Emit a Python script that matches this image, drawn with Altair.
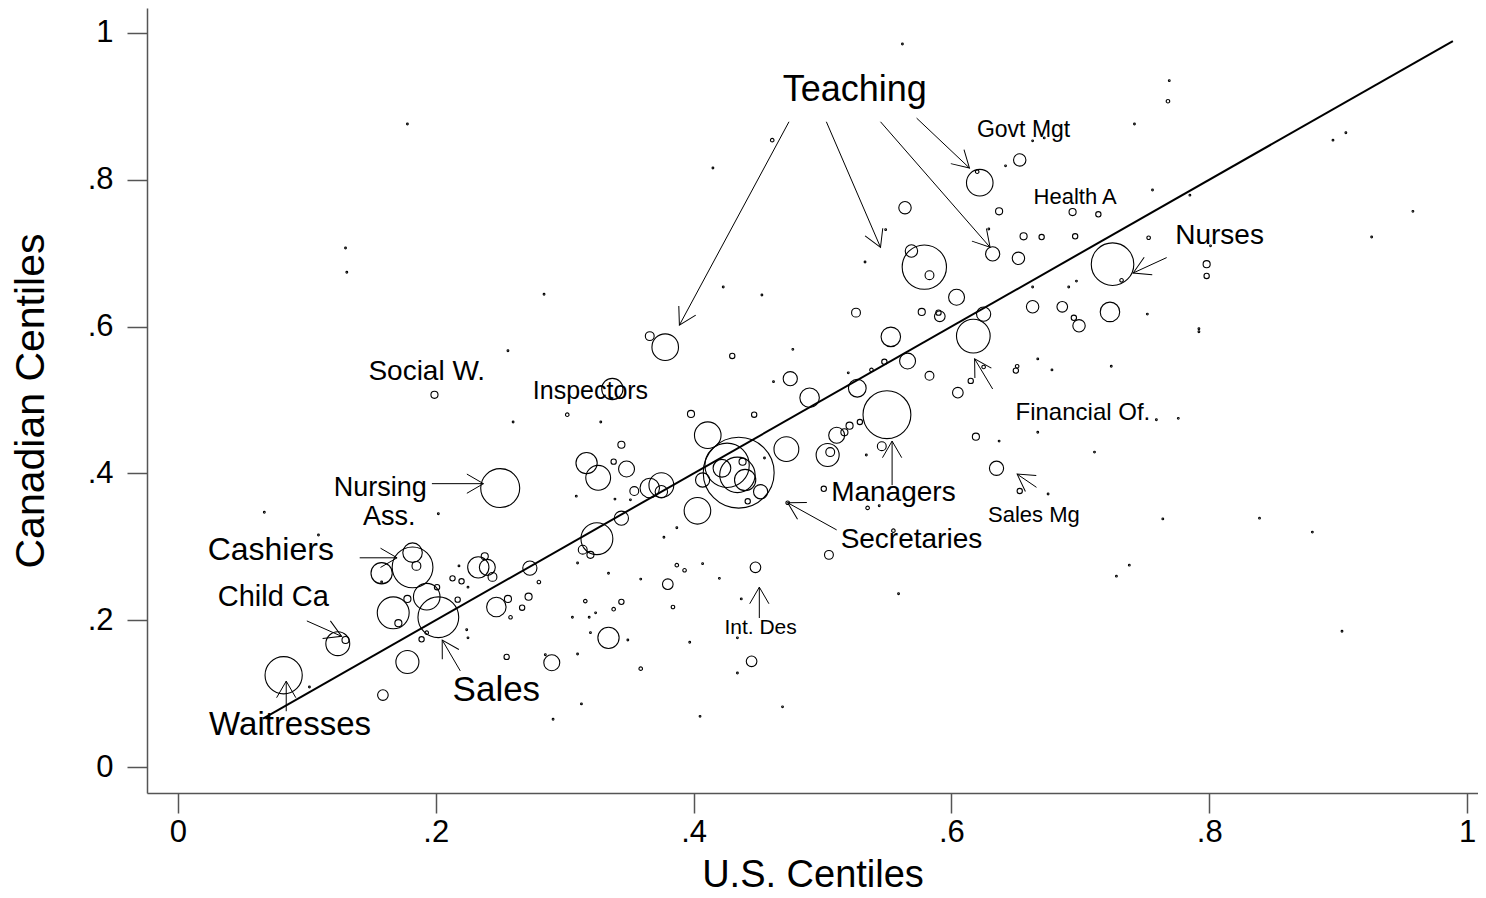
import math
import altair as alt
import pandas as pd

# ---------------- data: occupations (U.S. centile, Canadian centile, relative employment)
US = [0.082, 0.124, 0.130, 0.158, 0.182, 0.182, 0.185, 0.167, 0.193, 0.202, 0.178, 0.159,
      0.233, 0.240, 0.238, 0.247, 0.273, 0.290, 0.250, 0.213, 0.220, 0.178, 0.171, 0.201,
      0.255, 0.272, 0.267, 0.256, 0.258, 0.280, 0.189, 0.193, 0.217, 0.244,
      0.490, 0.527, 0.550, 0.411, 0.435, 0.426, 0.422, 0.434, 0.440, 0.452, 0.407, 0.442,
      0.438, 0.472, 0.403, 0.317, 0.326, 0.348, 0.344, 0.338, 0.354, 0.366, 0.375, 0.375,
      0.344, 0.325, 0.314, 0.320, 0.398, 0.447, 0.302, 0.511, 0.517, 0.521, 0.529, 0.504,
      0.506, 0.473, 0.505, 0.448, 0.380, 0.387, 0.393, 0.344, 0.338, 0.316, 0.384, 0.334,
      0.445, 0.359, 0.501, 0.535, 0.555,
      0.622, 0.620, 0.564, 0.637, 0.694, 0.714, 0.653, 0.579, 0.569, 0.583, 0.632, 0.652,
      0.656, 0.670, 0.696, 0.725, 0.732, 0.753, 0.798, 0.798, 0.604, 0.526, 0.577, 0.590,
      0.591, 0.625, 0.663, 0.686, 0.695, 0.699, 0.723, 0.617, 0.553, 0.566, 0.548, 0.538,
      0.475, 0.583, 0.605, 0.615, 0.625, 0.650, 0.651, 0.619, 0.635, 0.653, 0.546,
      0.199, 0.337, 0.366, 0.378, 0.430, 0.461, 0.768]
CA = [0.125, 0.168, 0.173, 0.264, 0.272, 0.292, 0.274, 0.210, 0.232, 0.204, 0.143, 0.098,
      0.272, 0.272, 0.287, 0.218, 0.271, 0.142, 0.380, 0.257, 0.253, 0.229, 0.196, 0.245,
      0.150, 0.232, 0.217, 0.229, 0.204, 0.252, 0.174, 0.183, 0.228, 0.259,
      0.503, 0.516, 0.480, 0.452, 0.401, 0.411, 0.407, 0.398, 0.391, 0.375, 0.391, 0.362,
      0.416, 0.433, 0.349, 0.414, 0.394, 0.406, 0.439, 0.416, 0.376, 0.380, 0.384, 0.375,
      0.339, 0.311, 0.296, 0.289, 0.481, 0.480, 0.480, 0.452, 0.456, 0.465, 0.470, 0.425,
      0.429, 0.360, 0.289, 0.272, 0.249, 0.275, 0.268, 0.225, 0.215, 0.226, 0.218, 0.176,
      0.144, 0.134, 0.379, 0.353, 0.322,
      0.796, 0.811, 0.762, 0.757, 0.756, 0.753, 0.827, 0.681, 0.703, 0.670, 0.699, 0.693,
      0.723, 0.722, 0.723, 0.685, 0.663, 0.721, 0.685, 0.669, 0.640, 0.619, 0.620, 0.619,
      0.614, 0.617, 0.627, 0.627, 0.612, 0.601, 0.620, 0.587, 0.586, 0.553, 0.552, 0.541,
      0.529, 0.533, 0.510, 0.526, 0.545, 0.540, 0.546, 0.450, 0.407, 0.376, 0.437,
      0.507, 0.515, 0.587, 0.572, 0.560, 0.854, 0.907]
EMP = [441, 182, 16, 144, 529, 121, 25, 324, 225, 529, 169, 36,
       144, 81, 16, 121, 64, 81, 484, 9, 9, 16, 16, 9,
       9, 16, 9, 16, 4, 4, 9, 4, 9, 25,
       121, 100, 729, 225, 1600, 625, 100, 400, 144, 64, 64, 9,
       16, 196, 225, 144, 196, 81, 16, 9, 25, 121, 196, 49,
       64, 324, 25, 16, 16, 9, 4, 81, 16, 16, 9, 169,
       25, 4, 25, 36, 36, 4, 4, 9, 4, 4, 4, 144,
       36, 4, 9, 4, 4,
       225, 4, 49, 16, 16, 9, 49, 625, 49, 25, 64, 49,
       16, 9, 9, 576, 4, 4, 16, 9, 81, 25, 16, 9,
       36, 64, 49, 36, 9, 49, 121, 361, 121, 81, 9, 4,
       64, 25, 36, 9, 4, 9, 4, 16, 64, 9, 25,
       16, 144, 25, 225, 9, 4, 4]

# very small occupations (drawn as dots)
DOT_US = [0.562, 0.178, 0.415, 0.131, 0.130, 0.284, 0.256, 0.423, 0.453, 0.477, 0.260, 0.328,
          0.309, 0.339, 0.351, 0.377, 0.387, 0.407, 0.420, 0.359, 0.334, 0.310, 0.306, 0.319,
          0.324, 0.320, 0.349, 0.397, 0.437, 0.434, 0.310, 0.313, 0.405, 0.469, 0.434, 0.559,
          0.534, 0.544, 0.533, 0.520, 0.462, 0.663, 0.691, 0.697, 0.752, 0.792, 0.667, 0.678,
          0.724, 0.776, 0.667, 0.637, 0.711, 0.675, 0.455, 0.067, 0.202, 0.109, 0.158, 0.224,
          0.225, 0.218, 0.225, 0.102, 0.291, 0.285, 0.769, 0.742, 0.663, 0.672, 0.642, 0.756,
          0.785, 0.549, 0.629, 0.896, 0.906, 0.958, 0.926, 0.792, 0.759, 0.764, 0.839, 0.880,
          0.738, 0.728, 0.903, 0.801]
DOT_CA = [0.985, 0.876, 0.816, 0.674, 0.707, 0.644, 0.567, 0.654, 0.643, 0.569, 0.470, 0.470,
          0.369, 0.365, 0.364, 0.313, 0.326, 0.277, 0.257, 0.256, 0.264, 0.278, 0.204, 0.204,
          0.210, 0.183, 0.173, 0.170, 0.229, 0.176, 0.154, 0.086, 0.069, 0.082, 0.128, 0.236,
          0.425, 0.356, 0.688, 0.537, 0.525, 0.654, 0.654, 0.662, 0.617, 0.597, 0.556, 0.541,
          0.546, 0.475, 0.456, 0.444, 0.429, 0.372, 0.421, 0.347, 0.345, 0.316, 0.252, 0.187,
          0.176, 0.274, 0.245, 0.109, 0.065, 0.153, 0.935, 0.876, 0.853, 0.857, 0.819, 0.786,
          0.779, 0.732, 0.733, 0.854, 0.864, 0.757, 0.722, 0.593, 0.473, 0.338, 0.339, 0.320,
          0.275, 0.260, 0.185, 0.710]
DOT_EMP = 1

# 45-degree reference line
LINE_US = [0.066, 0.989]
LINE_CA = [0.066, 0.989]

# labels
LABELS = ["Teaching", "Govt Mgt", "Health A", "Nurses", "Social W.", "Inspectors",
          "Financial Of.", "Nursing", "Ass.", "Managers", "Sales Mg", "Secretaries",
          "Cashiers", "Child Ca", "Int. Des", "Sales", "Waitresses"]
LABEL_US = [0.525, 0.656, 0.696, 0.808, 0.193, 0.320, 0.702, 0.157, 0.164, 0.555, 0.664,
            0.569, 0.072, 0.074, 0.452, 0.247, 0.087]
LABEL_CA = [0.922, 0.868, 0.777, 0.723, 0.538, 0.512, 0.482, 0.380, 0.341, 0.373, 0.343,
            0.309, 0.296, 0.232, 0.189, 0.105, 0.057]
LABEL_FONT = [36, 23, 22, 28, 28, 25, 24, 27, 27, 28, 22, 28, 32, 29, 21, 35, 33]

# arrows: start (near label) -> tip (at occupation)
ARROW_US0 = [0.474, 0.503, 0.545, 0.573, 0.767, 0.197, 0.141, 0.100, 0.219, 0.084, 0.554,
             0.511, 0.632, 0.666, 0.451]
ARROW_CA0 = [0.879, 0.879, 0.879, 0.884, 0.694, 0.386, 0.285, 0.199, 0.131, 0.076, 0.384,
             0.323, 0.515, 0.381, 0.203]
ARROW_US1 = [0.389, 0.545, 0.630, 0.614, 0.741, 0.237, 0.170, 0.127, 0.205, 0.084, 0.554,
             0.473, 0.618, 0.651, 0.451]
ARROW_CA1 = [0.602, 0.708, 0.708, 0.816, 0.673, 0.386, 0.285, 0.178, 0.173, 0.117, 0.444,
             0.360, 0.556, 0.399, 0.245]

# ---------------- layout
W, H = 1331, 785
XDOM = [-0.024, 1.0085]
YDOM = [-0.0354, 1.034]
FONT = "Liberation Sans"

xs = alt.Scale(domain=XDOM, nice=False, zero=False)
ys = alt.Scale(domain=YDOM, nice=False, zero=False)

pts = pd.DataFrame({"us": US + DOT_US, "ca": CA + DOT_CA,
                    "emp": EMP + [DOT_EMP] * len(DOT_US)})
line_df = pd.DataFrame({"us": LINE_US, "ca": LINE_CA})
lab_df = pd.DataFrame({"label": LABELS, "us": LABEL_US, "ca": LABEL_CA, "fs": LABEL_FONT})

sx = W / (XDOM[1] - XDOM[0])
sy = H / (YDOM[1] - YDOM[0])
angs = []
for a, b, c, d in zip(ARROW_US0, ARROW_CA0, ARROW_US1, ARROW_CA1):
    dx = (c - a) * sx
    dy = -(d - b) * sy
    angs.append(math.degrees(math.atan2(dy, dx)) % 360)
arr_df = pd.DataFrame({"us0": ARROW_US0, "ca0": ARROW_CA0, "us1": ARROW_US1,
                       "ca1": ARROW_CA1, "ang": angs})

ticks = [0, 0.2, 0.4, 0.6, 0.8, 1]
lab_expr = "datum.value == 0 ? '0' : (datum.value == 1 ? '1' : replace(format(datum.value, '.1f'), '0.', '.'))"

x_axis = alt.Axis(values=ticks, labelExpr=lab_expr, title="U.S. Centiles", grid=False,
                  tickSize=20, labelPadding=4, titlePadding=9)
y_axis = alt.Axis(values=ticks, labelExpr=lab_expr, title="Canadian Centiles", grid=False,
                  tickSize=20, labelPadding=14, titlePadding=35)

base_x = alt.X("us:Q", scale=xs, axis=x_axis)
base_y = alt.Y("ca:Q", scale=ys, axis=y_axis)

bubbles = alt.Chart(pts).mark_point(shape="circle", filled=False, color="black",
                                    strokeWidth=1.1, opacity=1).encode(
    x=base_x, y=base_y,
    size=alt.Size("emp:Q", scale=alt.Scale(type="linear", domain=[0, 1600],
                                           range=[0, math.pi * 1600]), legend=None),
)

diag = alt.Chart(line_df).mark_line(color="black", strokeWidth=2).encode(
    x=alt.X("us:Q", scale=xs), y=alt.Y("ca:Q", scale=ys))

shafts = alt.Chart(arr_df).mark_rule(color="black", strokeWidth=1).encode(
    x=alt.X("us0:Q", scale=xs), y=alt.Y("ca0:Q", scale=ys),
    x2="us1:Q", y2="ca1:Q")

heads = alt.Chart(arr_df).mark_point(shape="M -1 -0.58 L 0 0 L -1 0.58", filled=False,
                                     color="black", strokeWidth=1, opacity=1,
                                     size=1100).encode(
    x=alt.X("us1:Q", scale=xs), y=alt.Y("ca1:Q", scale=ys),
    angle=alt.Angle("ang:Q", scale=None))

texts = alt.Chart(lab_df).mark_text(font=FONT, color="black", align="center",
                                    baseline="middle").encode(
    x=alt.X("us:Q", scale=xs), y=alt.Y("ca:Q", scale=ys),
    text="label:N", size=alt.Size("fs:Q", scale=None))

chart = alt.layer(bubbles, diag, shafts, heads, texts).properties(
    width=W, height=H,
    autosize=alt.AutoSizeParams(type="none"),
    padding={"left": 139, "top": 0, "right": 0, "bottom": 102},
    background="white",
).configure_view(strokeWidth=0).configure_axis(
    domainColor="#555555", domainWidth=1.5, tickColor="#555555", tickWidth=1.5,
    labelFont=FONT, labelFontSize=31, labelColor="black",
    titleFont=FONT, titleFontWeight="normal", titleColor="black",
).configure_axisX(titleFontSize=38).configure_axisY(titleFontSize=41, labelAngle=0)

chart.save("out.html", embed_options={"renderer": "svg", "actions": False})
